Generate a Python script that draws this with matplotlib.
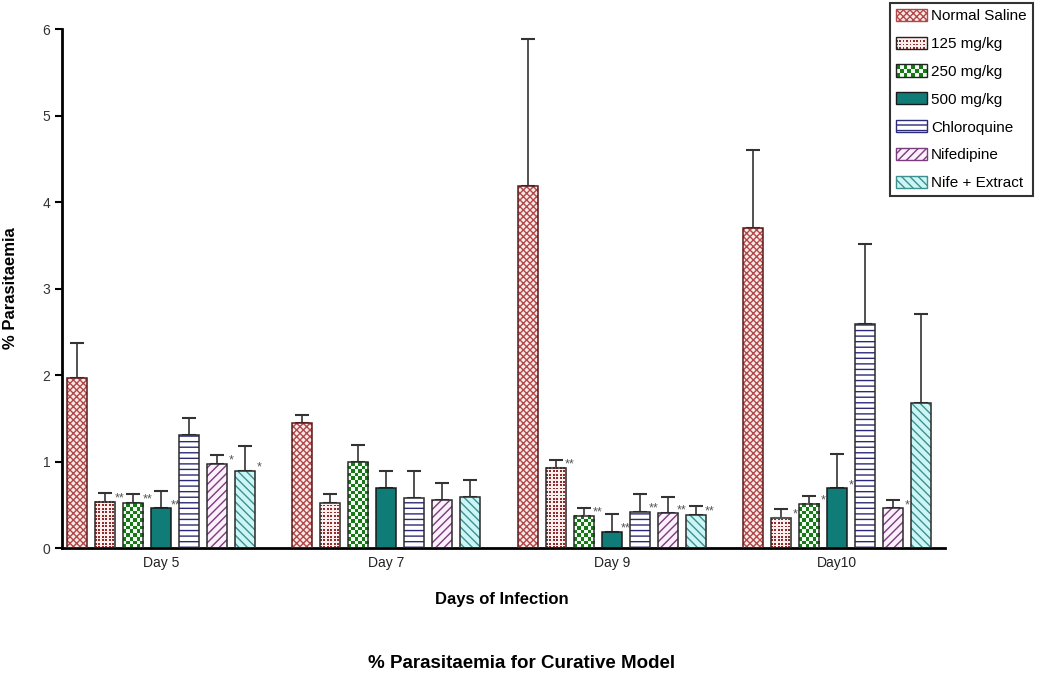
import numpy as np
import matplotlib
matplotlib.use("Agg")
import matplotlib.pyplot as plt
from matplotlib.colors import ListedColormap
from matplotlib.patches import Rectangle, Patch
from matplotlib.legend_handler import HandlerBase

plt.rcParams['font.family'] = ['Liberation Sans', 'DejaVu Sans']
plt.rcParams['hatch.linewidth'] = 1.0

days = ['Day 5', 'Day 7', 'Day 9', 'Day10']
groups = ['Normal Saline', '125 mg/kg', '250 mg/kg', '500 mg/kg',
          'Chloroquine', 'Nifedipine', 'Nife + Extract']

normal_saline = [1.97, 1.44, 4.19, 3.70]
mg125 = [0.535, 0.52, 0.925, 0.35]
mg250 = [0.52, 0.99, 0.37, 0.51]
mg500 = [0.46, 0.69, 0.19, 0.69]
chloroquine = [1.31, 0.58, 0.42, 2.59]
nifedipine = [0.975, 0.55, 0.40, 0.46]
nife_extract = [0.89, 0.59, 0.38, 1.68]

err_saline = [0.40, 0.10, 1.70, 0.90]
err_125 = [0.10, 0.10, 0.095, 0.10]
err_250 = [0.10, 0.20, 0.09, 0.09]
err_500 = [0.20, 0.20, 0.20, 0.40]
err_chloro = [0.19, 0.31, 0.20, 0.92]
err_nife = [0.10, 0.20, 0.19, 0.10]
err_nife_ext = [0.29, 0.20, 0.10, 1.02]

stars_saline = ['', '', '', '']
stars_125 = ['**', '', '**', '*']
stars_250 = ['**', '', '**', '*']
stars_500 = ['**', '', '**', '*']
stars_chloro = ['', '', '**', '']
stars_nife = ['*', '', '**', '*']
stars_nife_ext = ['*', '', '**', '']

values = [normal_saline, mg125, mg250, mg500, chloroquine, nifedipine, nife_extract]
errors = [err_saline, err_125, err_250, err_500, err_chloro, err_nife, err_nife_ext]
stars = [stars_saline, stars_125, stars_250, stars_500, stars_chloro, stars_nife, stars_nife_ext]

# fill style per series: (face, hatch colour, hatch, edge)
styles = [
    dict(face='#fbeaea', hcol='#b04848', hatch='xxxxx', edge='#5a1a1a'),
    dict(face='#f6e4e4', hcol=None, hatch=None, edge='#2a2a2a'),
    dict(face='white', hcol=None, hatch=None, edge='#2a2a2a'),
    dict(face='#0f7c78', hcol=None, hatch=None, edge='#1a1a1a'),
    dict(face='white', hcol='#2b2b7a', hatch='---', edge='#2a2a2a'),
    dict(face='#fbf0fb', hcol='#7a3c7a', hatch='////', edge='#2a2a2a'),
    dict(face='#ccf6f6', hcol='#3f8f8f', hatch='\\\\\\\\', edge='#2a2a2a'),
]
# bitmap tiles for the dotted and checkered fills
tiles = {1: (np.array([[1, 0], [0, 0]]), ['#fbeeee', '#8e2b2b'], 1.7),
         2: (np.array([[1, 0], [0, 1]]), ['#f4fbf4', '#177a17'], 3.6)}

fig = plt.figure(figsize=(10.37, 6.81), dpi=100)
ax = fig.add_axes([0.0598, 0.1953, 0.8515, 0.7621])

x = np.arange(len(days))
pitch = 0.1244
width = 0.089
xlim = (-0.44, 3.48)
ylim = (0, 6)
ax.set_xlim(*xlim)
ax.set_ylim(*ylim)

px_x = 0.8515 * 1037 / (xlim[1] - xlim[0])
px_y = 0.7621 * 681 / (ylim[1] - ylim[0])

for i, (vals, errs, st, sty) in enumerate(zip(values, errors, stars, styles)):
    pos = x + (i - 3) * pitch
    ax.bar(pos, vals, width, color=sty['face'], edgecolor=sty['hcol'] or sty['face'],
           hatch=sty['hatch'], linewidth=0, zorder=2)
    if i in tiles:
        tile, cols, cell = tiles[i]
        cmap = ListedColormap(cols)
        for p, v in zip(pos, vals):
            nc = max(1, int(round(width * px_x / cell)))
            nr = max(1, int(round(v * px_y / cell)))
            board = np.tile(tile, (nr // 2 + 1, nc // 2 + 1))[:nr, :nc]
            ax.imshow(board, cmap=cmap, vmin=0, vmax=1, interpolation='nearest',
                      extent=(p - width / 2, p + width / 2, 0, v), aspect='auto',
                      origin='lower', zorder=2.5)
    ax.bar(pos, vals, width, fill=False, edgecolor=sty['edge'], linewidth=1.1, zorder=3)
    ax.errorbar(pos, vals, yerr=[np.zeros(len(vals)), errs], fmt='none',
                ecolor='#333333', elinewidth=1.2, capsize=5, capthick=1.5, zorder=1.5)
    for p, v, s in zip(pos, vals, st):
        if s:
            ax.annotate(s, (p + width / 2, v), xytext=(3, -2), textcoords='offset points',
                        ha='center', va='bottom', fontsize=9, color='#555555')

ax.set_xlim(*xlim)
ax.set_ylim(*ylim)
ax.set_xticks(x)
ax.set_xticklabels(days, fontsize=10, color='#222222')
ax.set_yticks(range(7))
ax.tick_params(axis='x', length=0, pad=6)
ax.tick_params(axis='y', length=5, width=1.5, labelsize=10, labelcolor='#333333', direction='out')
for side in ['top', 'right']:
    ax.spines[side].set_visible(False)
for side in ['left', 'bottom']:
    ax.spines[side].set_linewidth(2)

ax.set_ylabel('% Parasitaemia', fontsize=12, fontweight='bold')
ax.yaxis.set_label_coords(-0.05, 0.5)
ax.set_xlabel('Days of Infection', fontsize=12, fontweight='bold')
ax.xaxis.set_label_coords(0.498, -0.085)
fig.text(0.503, 0.025, '% Parasitaemia for Curative Model', fontsize=13.5,
         fontweight='bold', ha='center', va='center')


class TileHandler(HandlerBase):
    def __init__(self, tile, cols, cell):
        super().__init__()
        self.tile, self.cols, self.cell = tile, cols, cell * 0.72

    def create_artists(self, legend, orig, xd, yd, w, h, fontsize, trans):
        arts = [Rectangle((-xd, -yd), w, h, facecolor=self.cols[0], edgecolor='none', transform=trans)]
        nc = int(round(w / self.cell))
        nr = int(round(h / self.cell))
        cw, ch = w / nc, h / nr
        for r in range(nr):
            for c in range(nc):
                if self.tile[r % 2, c % 2]:
                    arts.append(Rectangle((-xd + c * cw, -yd + r * ch), cw, ch,
                                          facecolor=self.cols[1], edgecolor='none', transform=trans))
        arts.append(Rectangle((-xd, -yd), w, h, fill=False, edgecolor='#222222',
                              linewidth=1, transform=trans))
        return arts


handles = []
handler_map = {}
for i, (name, sty) in enumerate(zip(groups, styles)):
    h = Patch(facecolor=sty['face'], edgecolor=sty['hcol'] or sty['edge'], hatch=sty['hatch'],
              linewidth=1, label=name)
    if i in tiles:
        handler_map[h] = TileHandler(*tiles[i])
    handles.append(h)

leg = fig.legend(handles=handles, handler_map=handler_map, loc='upper right',
                 bbox_to_anchor=(0.996, 0.996), fontsize=11, frameon=True, fancybox=False,
                 edgecolor='black', handlelength=2.0, handleheight=0.85, handletextpad=0.3,
                 labelspacing=0.88, borderpad=0.4, borderaxespad=0)
leg.get_frame().set_linewidth(1.5)

fig.savefig('out.png', dpi=100, facecolor='white')
